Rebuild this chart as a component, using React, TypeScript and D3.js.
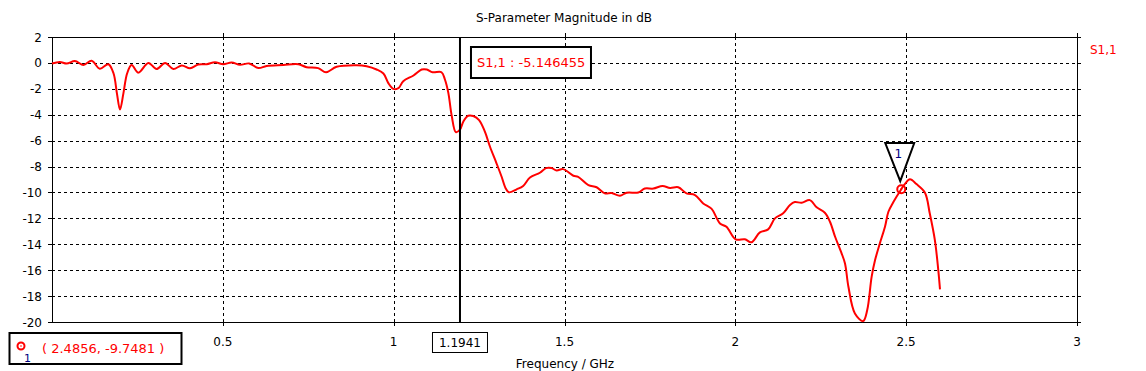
import React from "react";
import * as d3 from "d3";

// S1,1 curve
const freqGHz = [
  0.0, 0.023, 0.043, 0.067, 0.092, 0.116, 0.14, 0.165, 0.18, 0.19, 0.199, 0.209, 0.22, 0.233, 0.253,
  0.282, 0.306, 0.331, 0.355, 0.38, 0.404, 0.428, 0.453, 0.477, 0.501, 0.526, 0.55, 0.577, 0.604,
  0.628, 0.677, 0.721, 0.745, 0.779, 0.802, 0.833, 0.892, 0.921, 0.95, 0.97, 0.984, 0.999, 1.014,
  1.028, 1.058, 1.082, 1.097, 1.114, 1.14, 1.15, 1.16, 1.17, 1.182, 1.194, 1.204, 1.218, 1.233,
  1.25, 1.267, 1.282, 1.301, 1.316, 1.328, 1.337, 1.36, 1.379, 1.399, 1.428, 1.446, 1.462, 1.477,
  1.496, 1.526, 1.54, 1.57, 1.594, 1.618, 1.638, 1.662, 1.682, 1.716, 1.735, 1.76, 1.787, 1.809,
  1.833, 1.857, 1.882, 1.906, 1.93, 1.955, 1.974, 2.001, 2.028, 2.047, 2.072, 2.096, 2.116, 2.14,
  2.16, 2.174, 2.194, 2.218, 2.238, 2.262, 2.277, 2.292, 2.311, 2.321, 2.331, 2.35, 2.374, 2.386,
  2.399, 2.409, 2.423, 2.438, 2.448, 2.463, 2.4856, 2.496, 2.511, 2.53, 2.555, 2.569, 2.584, 2.594,
  2.599,
];
const s11dB = [
  -0.05, 0.07, -0.05, 0.15, -0.16, 0.17, -0.45, -0.1, -0.8, -2.35, -3.6, -2.35, -0.8, -0.16, -0.75,
  0.0, -0.47, 0.0, -0.47, -0.2, -0.42, -0.13, -0.1, 0.05, -0.1, 0.03, -0.15, -0.04, -0.4,
  -0.23, -0.16, -0.1, -0.33, -0.4, -0.72, -0.3, -0.18, -0.26, -0.51, -0.82, -1.54, -2.0, -1.95,
  -1.41, -0.97, -0.51, -0.51, -0.72, -0.72, -1.28, -2.31, -4.1, -5.34, -5.15, -4.52, -4.08, -4.1,
  -4.41, -5.31, -6.47, -7.75, -8.79, -9.69, -9.99, -9.76, -9.5, -8.84, -8.48, -8.12, -8.12, -8.3,
  -8.2, -8.71, -8.79, -9.43, -9.6, -10.07, -10.04, -10.25, -10.02, -10.0, -9.7, -9.7, -9.5, -9.65,
  -9.6, -10.07, -10.2, -10.85, -11.25, -12.39, -12.65, -13.62, -13.62, -13.85, -13.08, -12.85, -12.0, -11.61,
  -10.97, -10.74, -10.8, -10.59, -11.15, -11.57, -12.26, -13.42, -14.7, -15.48, -17.28, -19.34, -19.93, -19.08,
  -16.5, -15.22, -13.93, -12.65, -11.49, -10.72, -9.748, -9.35, -8.99, -9.35, -10.02, -11.61, -13.68, -15.99,
  -17.48,
];

const xTicks = [0.5, 1, 1.5, 2, 2.5, 3];
const yTicks = [2, 0, -2, -4, -6, -8, -10, -12, -14, -16, -18, -20];

const cursorFreq = 1.1941;
const cursorText = "S1,1 : -5.146455";
const markerFreq = 2.4856;
const markerDb = -9.7481;
const markerText = "( 2.4856, -9.7481 )";

const W = 1146;
const H = 371;
const left = 52;
const right = 1077;
const top = 37;
const bottom = 322;
const font = "DejaVu Sans, Verdana, sans-serif";

const App = () => {
  const x = d3.scaleLinear().domain([0, 3]).range([left, right]);
  const y = d3.scaleLinear().domain([-20, 2]).range([bottom, top]);

  const pts: [number, number][] = freqGHz.map((f, i) => [f, s11dB[i]]);
  const line = d3
    .line<[number, number]>()
    .x((d) => x(d[0]))
    .y((d) => y(d[1]))
    .curve(d3.curveCatmullRom.alpha(0.5));

  const cx = x(cursorFreq);
  const mx = x(markerFreq);
  const my = y(markerDb);

  return (
    <div style={{ position: "absolute", left: 0, top: 0 }}>
      <svg width={W} height={H} style={{ display: "block", background: "#fff" }} fontFamily={font}>
        {/* title */}
        <text x={564} y={22} textAnchor="middle" fontSize={12} fill="#000">
          S-Parameter Magnitude in dB
        </text>

        {/* grid */}
        {yTicks
          .filter((t) => t !== 2 && t !== -20)
          .map((t) => (
            <line key={"gy" + t} x1={left} x2={right} y1={Math.round(y(t)) + 0.5} y2={Math.round(y(t)) + 0.5}
              stroke="#000" strokeDasharray="3,3" />
          ))}
        {xTicks
          .filter((t) => t !== 3)
          .map((t) => (
            <line key={"gx" + t} y1={top} y2={bottom} x1={Math.round(x(t)) + 0.5} x2={Math.round(x(t)) + 0.5}
              stroke="#000" strokeDasharray="3,3" />
          ))}

        {/* frame + ticks */}
        <rect x={left + 0.5} y={top + 0.5} width={right - left} height={bottom - top} fill="none" stroke="#000" />
        {yTicks.map((t) => (
          <g key={"ty" + t}>
            <line x1={left - 4} x2={left} y1={Math.round(y(t)) + 0.5} y2={Math.round(y(t)) + 0.5} stroke="#000" />
            <line x1={right} x2={right + 4} y1={Math.round(y(t)) + 0.5} y2={Math.round(y(t)) + 0.5} stroke="#000" />
            <text x={left - 10} y={y(t) + 4.5} textAnchor="end" fontSize={12} fill="#000">
              {t}
            </text>
          </g>
        ))}
        {xTicks.map((t) => (
          <g key={"tx" + t}>
            <line y1={bottom} y2={bottom + 4} x1={Math.round(x(t)) + 0.5} x2={Math.round(x(t)) + 0.5} stroke="#000" />
            <line y1={top - 4} y2={top} x1={Math.round(x(t)) + 0.5} x2={Math.round(x(t)) + 0.5} stroke="#000" />
            <text x={x(t)} y={346} textAnchor="middle" fontSize={12} fill="#000">
              {t}
            </text>
          </g>
        ))}
        <text x={565} y={368} textAnchor="middle" fontSize={12} fill="#000">
          Frequency / GHz
        </text>
        <text x={1090} y={54} fontSize={12} fill="#ff0000">
          S1,1
        </text>

        {/* curve */}
        <path d={line(pts) ?? ""} fill="none" stroke="#ff0000" strokeWidth={2} strokeLinejoin="round" />

        {/* cursor */}
        <line x1={cx} x2={cx} y1={top} y2={bottom} stroke="#000" strokeWidth={2} />
        <rect x={cx - 27.5} y={332.5} width={55} height={20} fill="#fff" stroke="#000" />
        <text x={cx} y={347} textAnchor="middle" fontSize={12} fill="#000">
          {cursorFreq}
        </text>
        <rect x={cx + 11} y={47} width={120} height={31} fill="#fff" stroke="#000" strokeWidth={2} />
        <text x={cx + 17} y={67} fontSize={13} fill="#ff0000">
          {cursorText}
        </text>

        {/* marker 1 */}
        <polygon points={`${mx - 16},${top + 106} ${mx + 13},${top + 106} ${mx - 1},${my - 8}`}
          fill="#fff" stroke="#000" strokeWidth={2} strokeLinejoin="miter" />
        <text x={mx - 3} y={top + 121} textAnchor="middle" fontSize={12} fill="#000080">
          1
        </text>
        <circle cx={mx} cy={my} r={4} fill="none" stroke="#ff0000" strokeWidth={2} />
        <circle cx={mx} cy={my} r={1} fill="#ff0000" />

        {/* marker readout */}
        <rect x={9.5} y={333} width={172} height={31} fill="#fff" stroke="#000" strokeWidth={2} />
        <circle cx={21} cy={346} r={3.5} fill="none" stroke="#ff0000" strokeWidth={2} />
        <circle cx={21} cy={346} r={0.8} fill="#ff0000" />
        <text x={24} y={362} fontSize={11} fill="#000080">
          1
        </text>
        <text x={42} y={353} fontSize={13} fill="#ff0000">
          {markerText}
        </text>
      </svg>
    </div>
  );
};

export default App;
